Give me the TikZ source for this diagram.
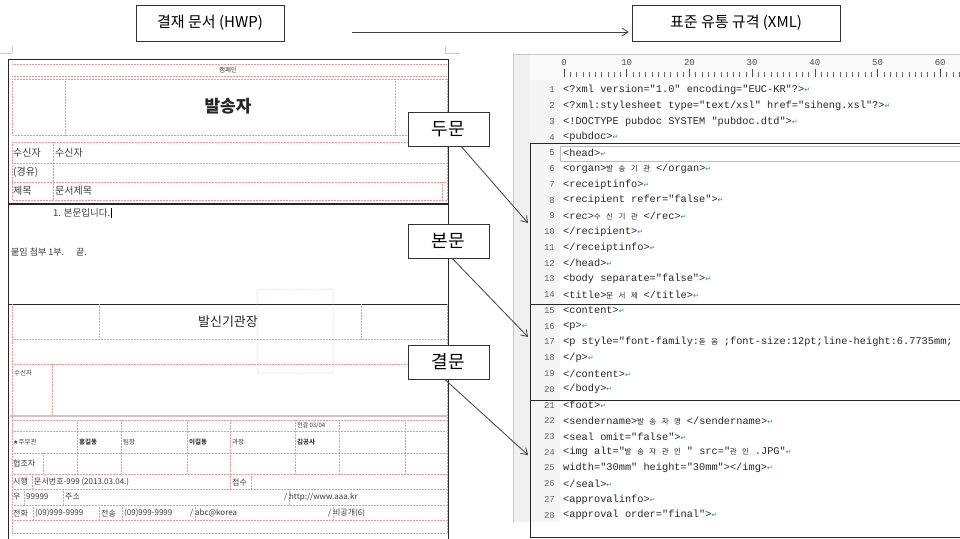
\documentclass[tikz,border=0pt]{standalone}
\usepackage{fontspec}
\setmainfont{Noto Sans CJK KR}
\setmonofont{Liberation Mono}
\newfontfamily\krf{Noto Sans CJK KR}
\newfontfamily\symf{DejaVu Sans}
\usetikzlibrary{arrows.meta}
\definecolor{guidec}{RGB}{240,150,150}
\definecolor{txtc}{RGB}{60,60,60}
\definecolor{eolc}{RGB}{40,140,140}
\newcommand\kk[1]{\makebox[6.2pt][c]{\krf\fontsize{7.5}{8}\selectfont #1}}
\newcommand\eol{{\symf\fontsize{7}{7}\selectfont\textcolor{eolc}{↵}}}
\tikzset{
  guide/.style={draw=guidec, densely dotted, line width=0.5pt},
  docframe/.style={draw=black!85, line width=0.9pt},
  lbl/.style={anchor=west, inner sep=0pt, text=txtc, font=\fontsize{10}{11}\selectfont},
  tiny/.style={anchor=west, inner sep=0pt, text=txtc, font=\fontsize{6.5}{7}\selectfont},
  small/.style={anchor=west, inner sep=0pt, text=txtc, font=\fontsize{8}{9}\selectfont},
  codeline/.style={anchor=west, inner sep=0pt, text=black!85, font=\ttfamily\fontsize{10.3}{12}\selectfont},
  lnum/.style={anchor=east, inner sep=0pt, text=black!60, font=\ttfamily\fontsize{9}{10}\selectfont},
  rnum/.style={inner sep=0pt, text=black!70, font=\ttfamily\fontsize{9}{10}\selectfont},
  callout/.style={draw=black!80, fill=white, line width=0.8pt, minimum width=81pt, minimum height=34pt, inner sep=0pt, font=\fontsize{18}{20}\selectfont},
  topbox/.style={draw=black!80, fill=white, line width=0.7pt, minimum height=36pt, inner sep=0pt, font=\fontsize{15}{17}\selectfont},
  conn/.style={-{Straight Barb[length=6pt,width=8pt]}, draw=black!75, line width=0.8pt},
  codebox/.style={draw=black!85, line width=0.9pt},
}
\begin{document}
\begin{tikzpicture}[x=1pt,y=-1pt]
\useasboundingbox (0,0) rectangle (960,538);
\clip (0,0) rectangle (960,538);
\fill[white] (0,0) rectangle (960,538);

% ---------------- top labels
\node[topbox, minimum width=148pt] (hwp) at (210,23) {결재 문서 (HWP)};
\node[topbox, minimum width=208pt] (xml) at (736,23) {표준 유통 규격 (XML)};
\coordinate (tas) at (352,32);
\draw[conn, shorten >=3pt] (tas) -- (xml.west |- tas);

% ---------------- left document
\draw[gray!40, line width=0.5pt] (0,53) -- (12,53) (12,46) -- (12,53);
\draw[gray!40, line width=0.5pt] (445,53) -- (460,53) (445,46) -- (445,53);
\draw[docframe] (8,545) -- (8,59) -- (448,59) -- (448,545);

% head area guides
\draw[guide] (12,64) -- (447,64) (12,76) -- (447,76);
\draw[guide] (12,79) rectangle (447,135);
\draw[guide] (65,79) -- (65,135) (395,79) -- (395,135);
\draw[guide] (12,142) rectangle (447,200);
\draw[guide] (12,163) -- (447,163) (12,182) -- (447,182);
\draw[guide] (53,142) -- (53,200) (442,182) -- (442,200);
\node[anchor=center, inner sep=0pt, text=txtc, font=\fontsize{6.5}{7}\selectfont] (campaign) at (228,70) {캠페인};
\node[inner sep=0pt, text=black!85, font=\fontsize{17}{19}\selectfont\bfseries] (sender) at (228,106) {발송자};
\node[lbl] (rcv1) at (13,153) {수신자};
\node[lbl] (rcv2) at (55,153) {수신자};
\node[lbl] (via) at (13,172) {(경유)};
\node[lbl] (subj) at (13,191) {제목};
\node[lbl] (subjt) at (55,191) {문서제목};
\draw[black!85, line width=1.4pt] (8,204) -- (448,204);

% body area
\node[lbl, font=\fontsize{9.5}{10}\selectfont] (body1) at (53,213) {1. 본문입니다.};
\draw[black, line width=1pt] ([xshift=1.5pt]body1.east) ++(0,-5) -- ++(0,10);
\node[lbl, font=\fontsize{9}{10}\selectfont] (attach) at (11,252) {붙임 첨부 1부.\hspace{12pt}끝.};
\draw[black!85, line width=1pt] (8,304) -- (448,304);

% footer guides
\draw[guide] (12,304) -- (12,533) (447,304) -- (447,533);
\draw[guide] (99,304) -- (99,339) (361,304) -- (361,339);
\draw[guide] (12,339) -- (447,339) (12,364) -- (447,364);
\draw[guide, rounded corners=1.5pt] (257,289) rectangle (333,373);
\draw[guide] (52,364) -- (52,416);
\node[inner sep=0pt, text=black!85, font=\fontsize{13}{15}\selectfont] (chief) at (228,322) {발신기관장};
\node[tiny] (rcv3) at (14,373) {수신자};
\draw[gray!45, line width=2.5pt] (10,416) -- (447,416);

% approval table
\foreach \yy in {420,431,453,474,489,505,520,533}
  \draw[guide] (12,\yy) -- (447,\yy);
\foreach \xx in {77,121,187,230,295,339,405}
  \draw[guide] (\xx,420) -- (\xx,474);
\draw[guide] (43,453) -- (43,474);
\draw[guide] (32,474) -- (32,489) (230,474) -- (230,489) (251,474) -- (251,489);
\draw[guide] (24,489) -- (24,505) (63,489) -- (63,505) (289,489) -- (289,505);
\draw[guide] (33,505) -- (33,520) (99,505) -- (99,520) (122,505) -- (122,520) (195,505) -- (195,520) (333,505) -- (333,520);

\node[tiny, font=\fontsize{6}{7}\selectfont] (jeon) at (297,426) {전결 03/04};
\node[tiny] (a1) at (13,442) {{\symf\fontsize{6}{7}\selectfont ★}주무관};
\node[tiny, font=\fontsize{6.5}{7}\selectfont\bfseries] (a2) at (79,442) {홍길동};
\node[tiny] (a3) at (123,442) {팀장};
\node[tiny, font=\fontsize{6.5}{7}\selectfont\bfseries] (a4) at (189,442) {이길동};
\node[tiny] (a5) at (232,442) {과장};
\node[tiny, font=\fontsize{6.5}{7}\selectfont\bfseries] (a6) at (297,442) {김공사};
\node[small] (coop) at (13,463) {협조자};
\node[small] (s1) at (13,482) {시행};
\node[small] (s2) at (34,482) {문서번호-999 (2013.03.04.)};
\node[small] (s3) at (232,482) {접수};
\node[small] (u1) at (13,497) {우};
\node[small] (u2) at (26,497) {99999};
\node[small] (u3) at (65,497) {주소};
\node[small] (u4) at (284,497) {/ http://www.aaa.kr};
\node[small] (t1) at (13,513) {전화};
\node[small] (t2) at (35,513) {(09)999-9999};
\node[small] (t3) at (101,513) {전송};
\node[small] (t4) at (124,513) {(09)999-9999};
\node[small] (t5) at (190,513) {/ abc@korea};
\node[small] (t6) at (328,513) {/ 비공개(6)};

% ---------------- right XML editor
\fill[gray!12] (513,54) rectangle (962,522);
\fill[white] (530,80) rectangle (962,522);
\fill[gray!8] (530,80) rectangle (560,522);
\fill[white!96!gray] (530,55) rectangle (962,80);
\draw[gray!45, line width=0.6pt] (513,54) -- (962,54) (513,54) -- (513,522);
\foreach \n [count=\k from 0] in {0,10,...,60}
  \node[rnum] (r\n) at ({564+62.7*\k},63) {\n};
\foreach \i in {0,...,64}
  \draw[black!60, line width=0.5pt] ({564+6.27*\i},72) -- ({564+6.27*\i},77);
\foreach \i in {0,10,...,60}
  \draw[black!70, line width=0.6pt] ({564+6.27*\i},69) -- ({564+6.27*\i},77);

\draw[gray!50, line width=0.5pt] (560,146) rectangle (964,161);

\foreach \n in {1,...,28}
  \node[lnum] (n\n) at (555,{90+(\n-1)*15.75}) {\n};

\node[codeline] (c1) at (563,90) {<?xml version="1.0" encoding="EUC-KR"?>\eol};
\node[codeline] (c2) at (563,105.75) {<?xml:stylesheet type="text/xsl" href="siheng.xsl"?>\eol};
\node[codeline] (c3) at (563,121.5) {<!DOCTYPE pubdoc SYSTEM "pubdoc.dtd">\eol};
\node[codeline] (c4) at (563,137.25) {<pubdoc>\eol};
\node[codeline] (c5) at (563,153) {<head>\eol};
\node[codeline] (c6) at (563,168.75) {<organ>\kk{발} \kk{송} \kk{기} \kk{관} </organ>\eol};
\node[codeline] (c7) at (563,184.5) {<receiptinfo>\eol};
\node[codeline] (c8) at (563,200.25) {<recipient refer="false">\eol};
\node[codeline] (c9) at (563,216) {<rec>\kk{수} \kk{신} \kk{기} \kk{관} </rec>\eol};
\node[codeline] (c10) at (563,231.75) {</recipient>\eol};
\node[codeline] (c11) at (563,247.5) {</receiptinfo>\eol};
\node[codeline] (c12) at (563,263.25) {</head>\eol};
\node[codeline] (c13) at (563,279) {<body separate="false">\eol};
\node[codeline] (c14) at (563,294.75) {<title>\kk{문} \kk{서} \kk{제} </title>\eol};
\node[codeline] (c15) at (563,310.5) {<content>\eol};
\node[codeline] (c16) at (563,326.25) {<p>\eol};
\node[codeline] (c17) at (563,342) {<p style="font-family:\kk{돋} \kk{움} ;font-size:12pt;line-height:6.7735mm;};
\node[codeline] (c18) at (563,357.75) {</p>\eol};
\node[codeline] (c19) at (563,373.5) {</content>\eol};
\node[codeline] (c20) at (563,389.25) {</body>\eol};
\node[codeline] (c21) at (563,405) {<foot>\eol};
\node[codeline] (c22) at (563,420.75) {<sendername>\kk{발} \kk{송} \kk{자} \kk{명} </sendername>\eol};
\node[codeline] (c23) at (563,436.5) {<seal omit="false">\eol};
\node[codeline] (c24) at (563,452.25) {<img alt="\kk{발} \kk{송} \kk{자} \kk{관} \kk{인} " src="\kk{관} \kk{인} .JPG"\eol};
\node[codeline] (c25) at (563,468) {width="30mm" height="30mm"></img>\eol};
\node[codeline] (c26) at (563,483.75) {</seal>\eol};
\node[codeline] (c27) at (563,499.5) {<approvalinfo>\eol};
\node[codeline] (c28) at (563,515.25) {<approval order="final">\eol};

% section boxes
\draw[codebox] (964,143) -- (530,143) -- (530,537) -- (964,537);
\draw[codebox] (530,304) -- (964,304);
\draw[codebox] (530,400) -- (964,400);

% ---------------- callouts
\node[callout] (dumun) at (448.5,129) {두문};
\node[callout] (bonmun) at (448.5,241) {본문};
\node[callout] (gyeolmun) at (448.5,362) {결문};
\coordinate (headtip) at (528,223);
\coordinate (bodytip) at (528,337);
\coordinate (foottip) at (528,455);
\draw[conn] (dumun.-54) -- (headtip);
\draw[conn] (bonmun.-78) -- (bodytip);
\draw[conn] (gyeolmun.-102) -- (foottip);
\end{tikzpicture}
\end{document}
